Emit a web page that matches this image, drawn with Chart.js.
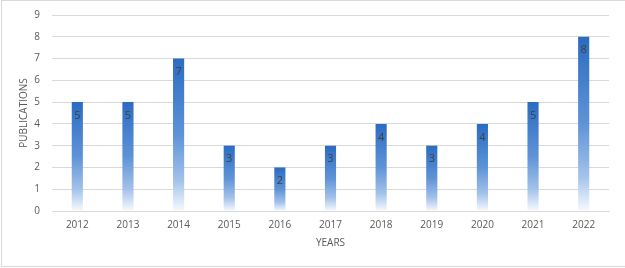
<!DOCTYPE html>
<html><head><meta charset="utf-8">
<script src="https://cdn.jsdelivr.net/npm/chart.js@4.4.0/dist/chart.umd.min.js"></script>
<style>
html,body{margin:0;padding:0;background:#fff;}
#wrap{position:absolute;left:0;top:0;width:625px;height:268px;}
#frame{position:absolute;left:1px;top:0px;width:640px;height:267px;border:1px solid #d9d9d9;box-sizing:border-box;pointer-events:none;}
</style></head>
<body>
<div id="wrap"><canvas id="c" width="625" height="268"></canvas><div id="frame"></div></div>
<script>
const years = ['2012','2013','2014','2015','2016','2017','2018','2019','2020','2021','2022'];
const publications = [5,5,7,3,2,3,4,3,4,5,8];
const yTicks = [0,1,2,3,4,5,6,7,8,9];

const FONT = '"Open Sans", sans-serif';

function barGradient(ctx) {
  const chart = ctx.chart;
  const area = chart.chartArea;
  if (!area || ctx.type !== 'data') return '#2E71C4';
  const ys = chart.scales.y;
  const top = ys.getPixelForValue(ctx.raw);
  const base = ys.getPixelForValue(0);
  const g = chart.ctx.createLinearGradient(0, top, 0, base);
  g.addColorStop(0, '#2A6CC2');
  g.addColorStop(0.5, '#5F93D7');
  g.addColorStop(0.8, '#A3C2EA');
  g.addColorStop(1, '#F7FAFE');
  return g;
}

const labelPlugin = {
  id: 'valueLabels',
  afterDatasetsDraw(chart) {
    const ctx = chart.ctx;
    const meta = chart.getDatasetMeta(0);
    ctx.save();
    ctx.font = '11px ' + FONT;
    ctx.fillStyle = '#404040';
    ctx.textAlign = 'center';
    ctx.textBaseline = 'middle';
    meta.data.forEach((bar, i) => {
      ctx.fillText(String(publications[i]), bar.x, bar.y + 13.5);
    });
    ctx.restore();
  }
};

new Chart(document.getElementById('c'), {
  type: 'bar',
  data: {
    labels: years,
    datasets: [{
      data: publications,
      backgroundColor: barGradient,
      borderWidth: 0,
      barPercentage: 0.22,
      categoryPercentage: 1.0
    }]
  },
  options: {
    responsive: false,
    animation: false,
    devicePixelRatio: 1,
    layout: { padding: { left: 0, right: 16, top: 15, bottom: 0 } },
    plugins: { legend: { display: false }, tooltip: { enabled: false } },
    scales: {
      x: {
        grid: { display: false, drawTicks: false },
        border: { display: true, color: '#d9d9d9', width: 1 },
        ticks: { color: '#595959', font: { family: FONT, size: 10 }, padding: 8, maxRotation: 0 },
        title: { display: true, text: 'YEARS', color: '#595959', font: { family: FONT, size: 10 }, padding: { top: 0, bottom: 19 } },
        afterFit(s) { s.height = 57; s.paddingLeft = 0; s.paddingRight = 0; }
      },
      y: {
        min: 0, max: 9,
        afterBuildTicks(s) { s.ticks = yTicks.map(v => ({ value: v })); },
        grid: { color: '#d9d9d9', lineWidth: 1, drawTicks: false },
        border: { display: false },
        ticks: { color: '#595959', font: { family: FONT, size: 10 }, padding: 12 },
        title: { display: true, text: 'PUBLICATIONS', color: '#595959', font: { family: FONT, size: 10 }, padding: { top: 18, bottom: 0 } },
        afterFit(s) { s.width = 52; s.paddingTop = 0; s.paddingBottom = 0; }
      }
    }
  },
  plugins: [labelPlugin]
});
</script>
</body></html>
